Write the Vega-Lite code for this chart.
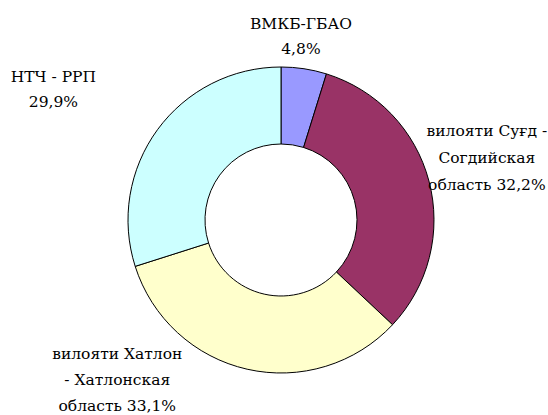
{
  "$schema": "https://vega.github.io/schema/vega-lite/v6.json",
  "width": 534,
  "height": 390,
  "autosize": {"type": "none"},
  "padding": {"left": 14, "top": 25, "right": 0, "bottom": 0},
  "background": "white",
  "view": {"stroke": null},
  "data": {
    "values": [
      {"idx": 1, "region": "ВМКБ-ГБАО", "value": 4.8, "label": "ВМКБ-ГБАО\n4,8%"},
      {"idx": 2, "region": "Сугд", "value": 32.2, "label": "вилояти Суғд -\nСогдийская\nобласть 32,2%"},
      {"idx": 3, "region": "Хатлон", "value": 33.1, "label": "вилояти Хатлон\n- Хатлонская\nобласть 33,1%"},
      {"idx": 4, "region": "НТЧ", "value": 29.9, "label": "НТЧ - РРП\n29,9%"}
    ]
  },
  "encoding": {
    "theta": {"field": "value", "type": "quantitative", "stack": true},
    "order": {"field": "idx", "type": "quantitative"}
  },
  "layer": [
    {
      "mark": {"type": "arc", "outerRadius": 153, "innerRadius": 76, "stroke": "black", "strokeWidth": 1},
      "encoding": {
        "color": {
          "field": "region", "type": "nominal", "legend": null,
          "scale": {"domain": ["ВМКБ-ГБАО", "Сугд", "Хатлон", "НТЧ"], "range": ["#9999FF", "#993366", "#FFFFCC", "#CCFFFF"]}
        }
      }
    },
    {
      "mark": {"type": "text", "radius": 186, "dx": -8, "dy": -12, "font": "DejaVu Serif", "fontSize": 15.5, "lineHeight": 25, "lineBreak": "\n", "baseline": "middle", "align": "center", "color": "black"},
      "encoding": {"text": {"condition": {"test": "datum.region == 'ВМКБ-ГБАО'", "field": "label"}, "value": ""}}
    },
    {
      "mark": {"type": "text", "radius": 216, "dx": -3, "dy": -34, "font": "DejaVu Serif", "fontSize": 15.5, "lineHeight": 27, "lineBreak": "\n", "baseline": "middle", "align": "center", "color": "black"},
      "encoding": {"text": {"condition": {"test": "datum.region == 'Сугд'", "field": "label"}, "value": ""}}
    },
    {
      "mark": {"type": "text", "radius": 166, "dx": -127, "dy": -28, "font": "DejaVu Serif", "fontSize": 15.5, "lineHeight": 26, "lineBreak": "\n", "baseline": "middle", "align": "center", "color": "black"},
      "encoding": {"text": {"condition": {"test": "datum.region == 'Хатлон'", "field": "label"}, "value": ""}}
    },
    {
      "mark": {"type": "text", "radius": 220, "dx": -50, "dy": -13, "font": "DejaVu Serif", "fontSize": 15.5, "lineHeight": 25, "lineBreak": "\n", "baseline": "middle", "align": "center", "color": "black"},
      "encoding": {"text": {"condition": {"test": "datum.region == 'НТЧ'", "field": "label"}, "value": ""}}
    }
  ]
}
